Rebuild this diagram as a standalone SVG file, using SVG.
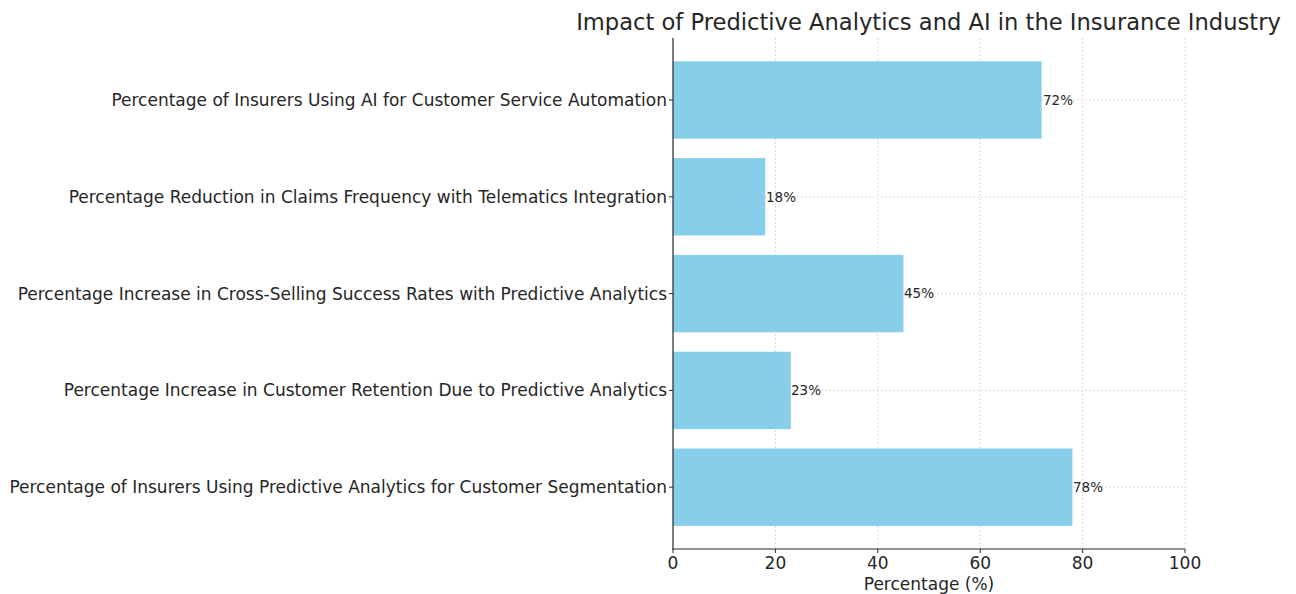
<svg xmlns="http://www.w3.org/2000/svg" width="1296" height="594" viewBox="0 0 1296 594">
<style>
text{font-family:"DejaVu Sans","Liberation Sans",sans-serif;fill:#262626}
.grid{stroke:#d9d9d9;stroke-width:1;stroke-dasharray:2,2}
.bar{fill:#87CEEB}
.yl{font-size:17px;text-anchor:end}
.xl{font-size:17px;text-anchor:middle}
.val{font-size:13.5px}
.spine{stroke:#262626;stroke-width:1.2}
</style>
<rect width="1296" height="594" fill="#fff"/>
<g id="grid">
<line class="grid" x1="775.4" y1="38" x2="775.4" y2="549"/>
<line class="grid" x1="877.8" y1="38" x2="877.8" y2="549"/>
<line class="grid" x1="980.2" y1="38" x2="980.2" y2="549"/>
<line class="grid" x1="1082.6" y1="38" x2="1082.6" y2="549"/>
<line class="grid" x1="1185" y1="38" x2="1185" y2="549"/>
<line class="grid" x1="673" y1="100" x2="1185" y2="100"/>
<line class="grid" x1="673" y1="196.8" x2="1185" y2="196.8"/>
<line class="grid" x1="673" y1="293.6" x2="1185" y2="293.6"/>
<line class="grid" x1="673" y1="390.4" x2="1185" y2="390.4"/>
<line class="grid" x1="673" y1="487.2" x2="1185" y2="487.2"/>
</g>
<g id="bar1"><rect class="bar" x="673" y="61.3" width="368.6" height="77.4"/><text class="yl" x="667" y="106">Percentage of Insurers Using AI for Customer Service Automation</text><text class="val" x="1043" y="104.8">72%</text></g>
<g id="bar2"><rect class="bar" x="673" y="158.1" width="92.2" height="77.4"/><text class="yl" x="667" y="202.8">Percentage Reduction in Claims Frequency with Telematics Integration</text><text class="val" x="766" y="201.6">18%</text></g>
<g id="bar3"><rect class="bar" x="673" y="254.9" width="230.4" height="77.4"/><text class="yl" x="667" y="299.6">Percentage Increase in Cross-Selling Success Rates with Predictive Analytics</text><text class="val" x="904" y="298.4">45%</text></g>
<g id="bar4"><rect class="bar" x="673" y="351.7" width="117.8" height="77.4"/><text class="yl" x="667" y="396.4">Percentage Increase in Customer Retention Due to Predictive Analytics</text><text class="val" x="791" y="395.2">23%</text></g>
<g id="bar5"><rect class="bar" x="673" y="448.5" width="399.4" height="77.4"/><text class="yl" x="667" y="493.2">Percentage of Insurers Using Predictive Analytics for Customer Segmentation</text><text class="val" x="1073" y="492">78%</text></g>
<g id="axes">
<line class="spine" x1="673" y1="38" x2="673" y2="549.6"/>
<line class="spine" x1="672.4" y1="549" x2="1185" y2="549"/>
<g stroke="#262626" stroke-width="1">
<line x1="669" y1="100" x2="673" y2="100"/><line x1="669" y1="196.8" x2="673" y2="196.8"/><line x1="669" y1="293.6" x2="673" y2="293.6"/><line x1="669" y1="390.4" x2="673" y2="390.4"/><line x1="669" y1="487.2" x2="673" y2="487.2"/>
<line x1="673" y1="549" x2="673" y2="553"/><line x1="775.4" y1="549" x2="775.4" y2="553"/><line x1="877.8" y1="549" x2="877.8" y2="553"/><line x1="980.2" y1="549" x2="980.2" y2="553"/><line x1="1082.6" y1="549" x2="1082.6" y2="553"/><line x1="1185" y1="549" x2="1185" y2="553"/>
</g>
<text class="xl" x="673" y="568.5">0</text><text class="xl" x="775.4" y="568.5">20</text><text class="xl" x="877.8" y="568.5">40</text><text class="xl" x="980.2" y="568.5">60</text><text class="xl" x="1082.6" y="568.5">80</text><text class="xl" x="1185" y="568.5">100</text>
<text class="xl" x="929" y="589.5">Percentage (%)</text>
</g>
<text id="title" x="928.5" y="30" font-size="22.6" text-anchor="middle">Impact of Predictive Analytics and AI in the Insurance Industry</text>
</svg>
